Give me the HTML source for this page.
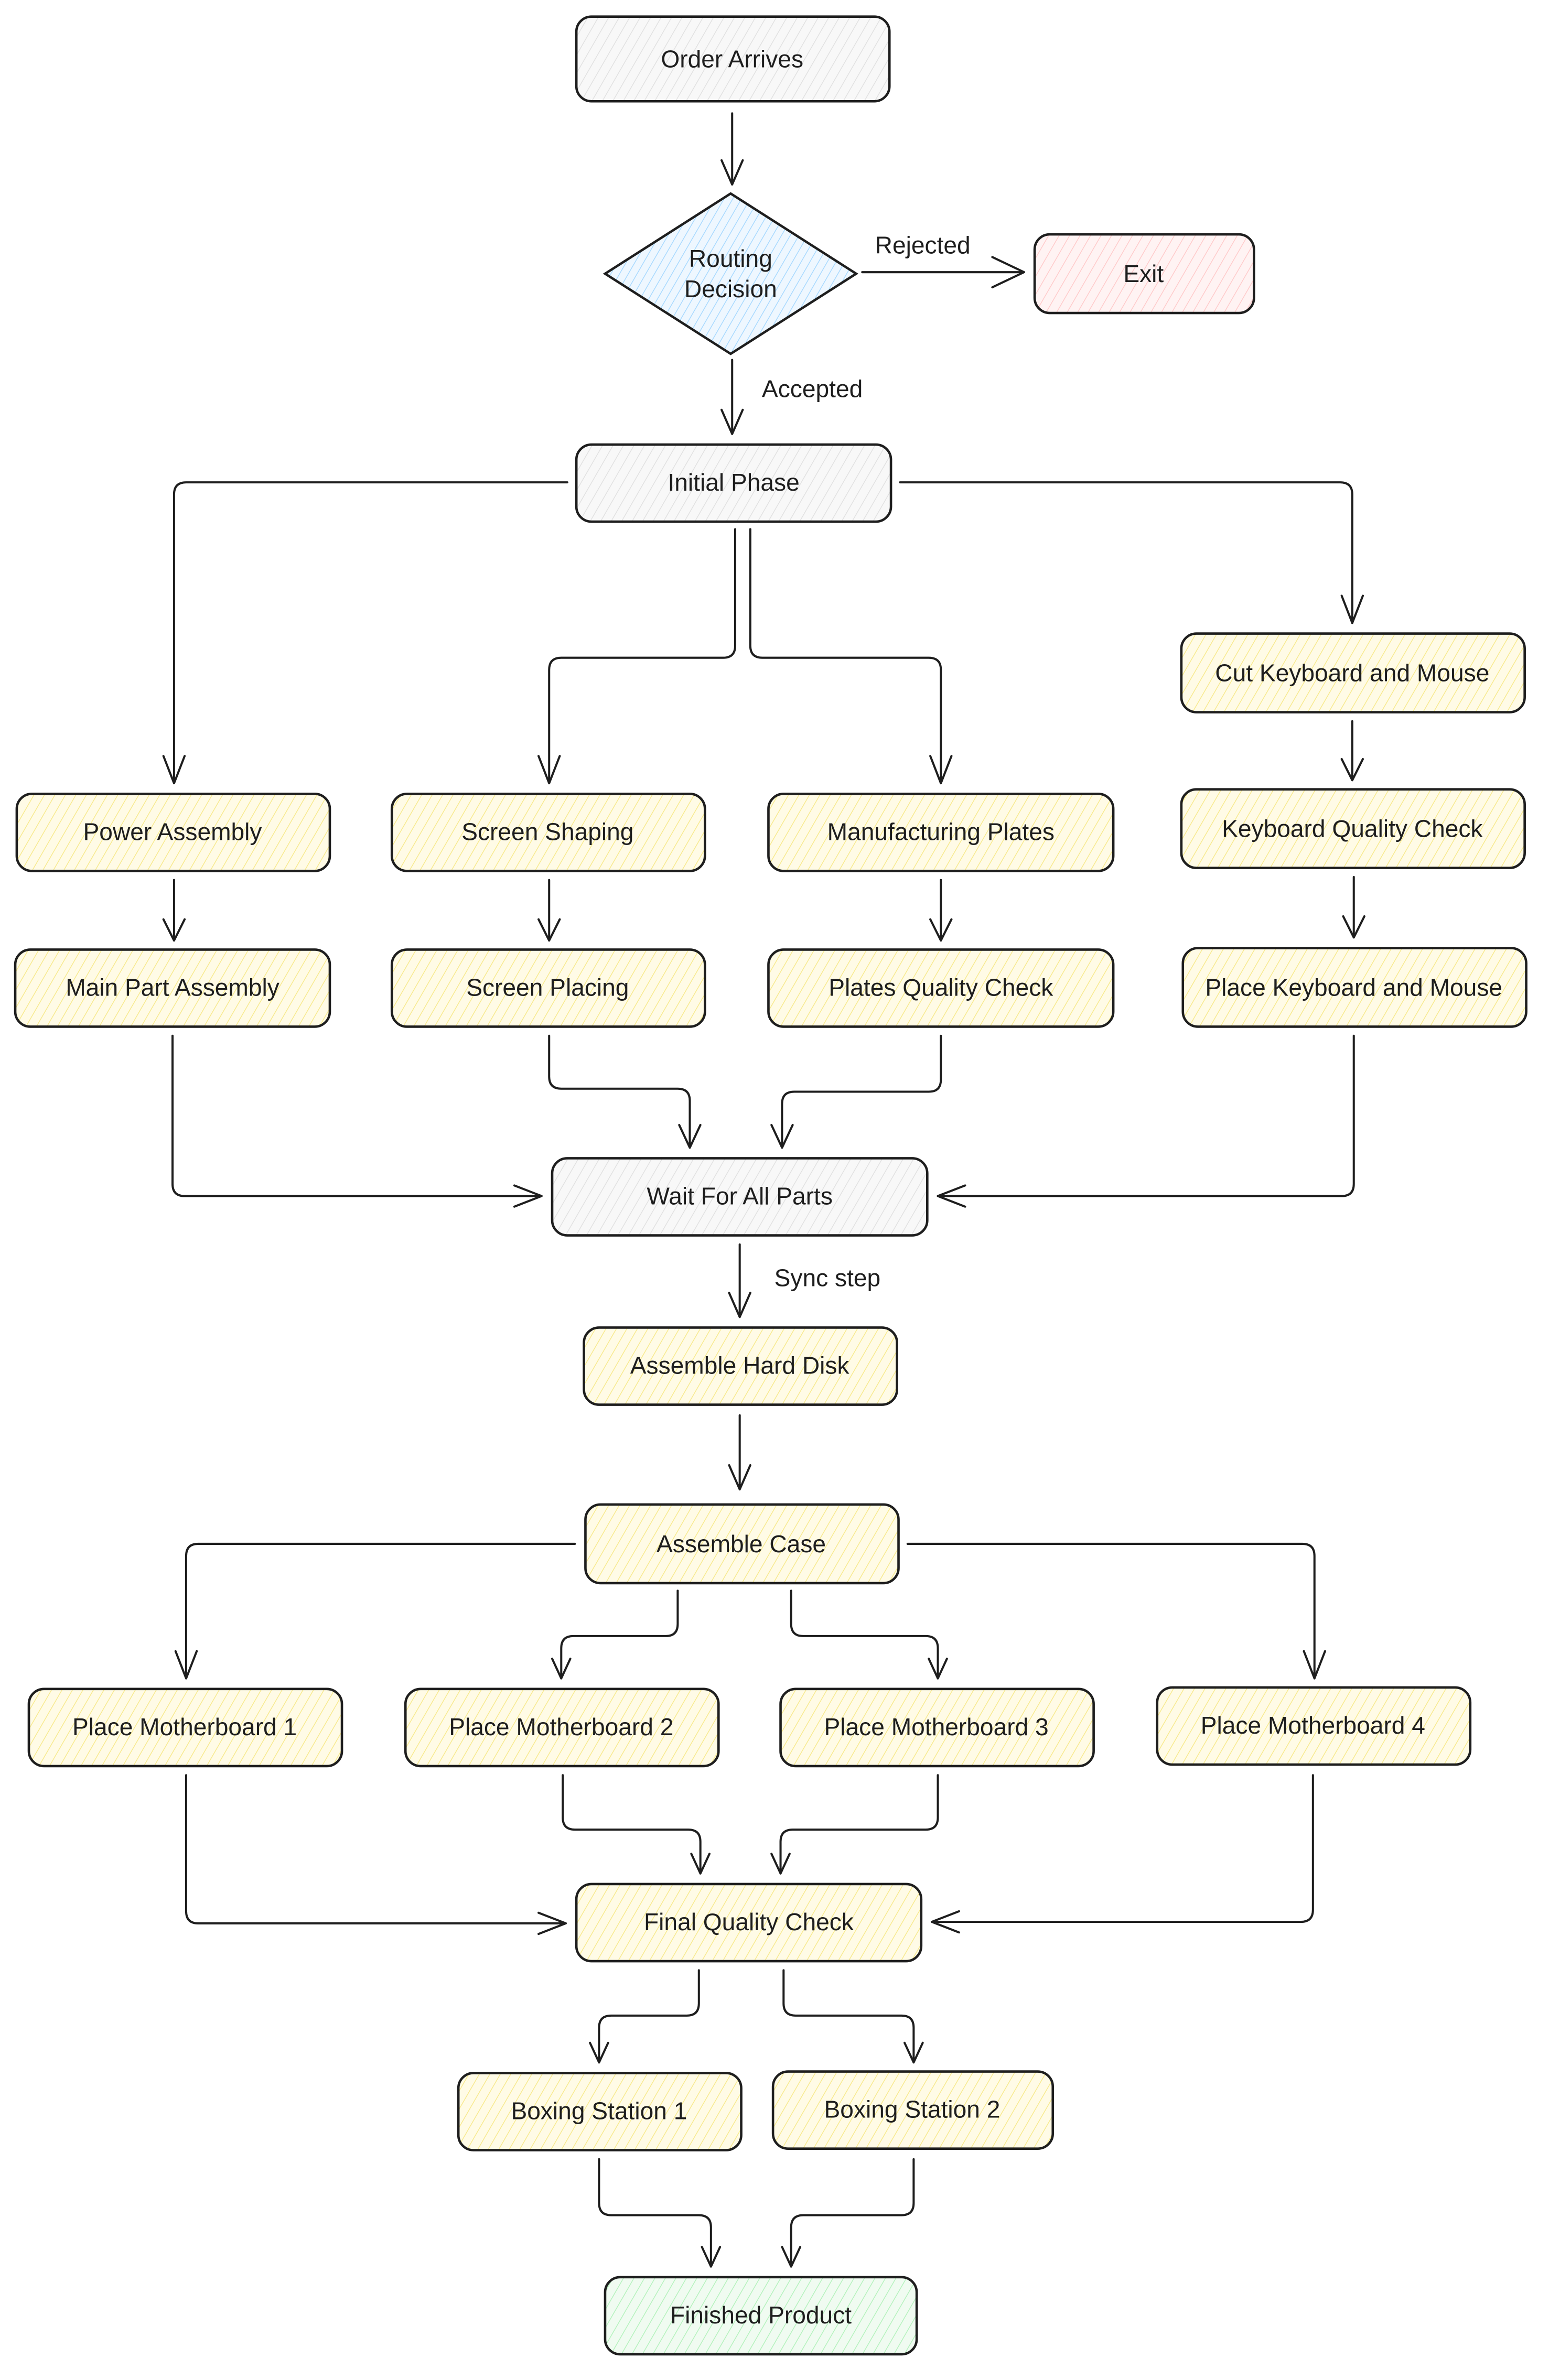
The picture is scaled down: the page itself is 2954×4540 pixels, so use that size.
<!DOCTYPE html>
<html><head><meta charset="utf-8">
<style>
html,body{margin:0;padding:0;background:#fff;}
svg{display:block;}
text{font-family:"Liberation Sans",sans-serif;font-size:16px;fill:#1e1e1e;text-anchor:middle;dominant-baseline:central;}
.e{fill:none;stroke:#1e1e1e;stroke-width:1.4;stroke-linejoin:round;stroke-linecap:round;}
.n{stroke:#1e1e1e;stroke-width:1.6;}
</style></head><body>
<svg width="2954" height="4540" viewBox="0 0 1024 1574" xmlns="http://www.w3.org/2000/svg">
<defs>
<pattern id="g" width="6" height="6" patternUnits="userSpaceOnUse" patternTransform="rotate(30)"><rect width="6" height="6" fill="#f8f8f8"/><line x1="0" y1="0" x2="0" y2="6" stroke="#e0e0e0" stroke-width="1"/></pattern>
<pattern id="y" width="6" height="6" patternUnits="userSpaceOnUse" patternTransform="rotate(30)"><rect width="6" height="6" fill="#fffbe6"/><line x1="0" y1="0" x2="0" y2="6" stroke="#f7e98a" stroke-width="1"/></pattern>
<pattern id="b" width="5" height="5" patternUnits="userSpaceOnUse" patternTransform="rotate(30)"><rect width="5" height="5" fill="#eef7ff"/><line x1="0" y1="0" x2="0" y2="5" stroke="#a5d8ff" stroke-width="1"/></pattern>
<pattern id="r" width="6" height="6" patternUnits="userSpaceOnUse" patternTransform="rotate(30)"><rect width="6" height="6" fill="#fff3f3"/><line x1="0" y1="0" x2="0" y2="6" stroke="#ffc9c9" stroke-width="1"/></pattern>
<pattern id="gr" width="6" height="6" patternUnits="userSpaceOnUse" patternTransform="rotate(30)"><rect width="6" height="6" fill="#f0fbf1"/><line x1="0" y1="0" x2="0" y2="6" stroke="#b2f2bb" stroke-width="1"/></pattern>
</defs>

<!-- nodes -->
<rect class="n" x="381" y="11" width="207" height="56" rx="10" fill="url(#g)"/><text x="484" y="39">Order Arrives</text>
<polygon class="n" points="483,128 566,181 483,234 400,181" fill="url(#b)"/><text x="483" y="171">Routing</text><text x="483" y="191">Decision</text>
<rect class="n" x="684" y="155" width="145" height="52" rx="10" fill="url(#r)"/><text x="756" y="181">Exit</text>
<rect class="n" x="381" y="294" width="208" height="51" rx="10" fill="url(#g)"/><text x="485" y="319">Initial Phase</text>

<rect class="n" x="11" y="525" width="207" height="51" rx="10" fill="url(#y)"/><text x="114" y="550">Power Assembly</text>
<rect class="n" x="259" y="525" width="207" height="51" rx="10" fill="url(#y)"/><text x="362" y="550">Screen Shaping</text>
<rect class="n" x="508" y="525" width="228" height="51" rx="10" fill="url(#y)"/><text x="622" y="550">Manufacturing Plates</text>
<rect class="n" x="781" y="419" width="227" height="52" rx="10" fill="url(#y)"/><text x="894" y="445">Cut Keyboard and Mouse</text>
<rect class="n" x="781" y="522" width="227" height="52" rx="10" fill="url(#y)"/><text x="894" y="548">Keyboard Quality Check</text>

<rect class="n" x="10" y="628" width="208" height="51" rx="10" fill="url(#y)"/><text x="114" y="653">Main Part Assembly</text>
<rect class="n" x="259" y="628" width="207" height="51" rx="10" fill="url(#y)"/><text x="362" y="653">Screen Placing</text>
<rect class="n" x="508" y="628" width="228" height="51" rx="10" fill="url(#y)"/><text x="622" y="653">Plates Quality Check</text>
<rect class="n" x="782" y="627" width="227" height="52" rx="10" fill="url(#y)"/><text x="895" y="653">Place Keyboard and Mouse</text>

<rect class="n" x="365" y="766" width="248" height="51" rx="10" fill="url(#g)"/><text x="489" y="791">Wait For All Parts</text>
<rect class="n" x="386" y="878" width="207" height="51" rx="10" fill="url(#y)"/><text x="489" y="903">Assemble Hard Disk</text>
<rect class="n" x="387" y="995" width="207" height="52" rx="10" fill="url(#y)"/><text x="490" y="1021">Assemble Case</text>

<rect class="n" x="19" y="1117" width="207" height="51" rx="10" fill="url(#y)"/><text x="122" y="1142">Place Motherboard 1</text>
<rect class="n" x="268" y="1117" width="207" height="51" rx="10" fill="url(#y)"/><text x="371" y="1142">Place Motherboard 2</text>
<rect class="n" x="516" y="1117" width="207" height="51" rx="10" fill="url(#y)"/><text x="619" y="1142">Place Motherboard 3</text>
<rect class="n" x="765" y="1116" width="207" height="51" rx="10" fill="url(#y)"/><text x="868" y="1141">Place Motherboard 4</text>

<rect class="n" x="381" y="1246" width="228" height="51" rx="10" fill="url(#y)"/><text x="495" y="1271">Final Quality Check</text>
<rect class="n" x="303" y="1371" width="187" height="51" rx="10" fill="url(#y)"/><text x="396" y="1396">Boxing Station 1</text>
<rect class="n" x="511" y="1370" width="185" height="51" rx="10" fill="url(#y)"/><text x="603" y="1395">Boxing Station 2</text>
<rect class="n" x="400" y="1506" width="206" height="51" rx="10" fill="url(#gr)"/><text x="503" y="1531">Finished Product</text>

<!-- edges -->
<g class="e">
<path d="M484 75 V122 M477 106 L484 122 L491 106"/>
<path d="M570 180 H677 M656 170 L677 180 L656 190"/>
<path d="M484 238 V287 M477 271 L484 287 L491 271"/>
<path d="M375 319 H123 Q115 319 115 327 V518 M108 500 L115 518 L122 500"/>
<path d="M486 350 V427 Q486 435 478 435 H371 Q363 435 363 443 V518 M356 500 L363 518 L370 500"/>
<path d="M496 350 V427 Q496 435 504 435 H614 Q622 435 622 443 V518 M615 500 L622 518 L629 500"/>
<path d="M595 319 H886 Q894 319 894 327 V412 M887 394 L894 412 L901 394"/>
<path d="M894 477 V516 M887 502 L894 516 L901 502"/>
<path d="M115 582 V622 M108 608 L115 622 L122 608"/>
<path d="M363 582 V622 M356 608 L363 622 L370 608"/>
<path d="M622 582 V622 M615 608 L622 622 L629 608"/>
<path d="M895 580 V620 M888 606 L895 620 L902 606"/>
<path d="M114 685 V783 Q114 791 122 791 H358 M340 784 L358 791 L340 798"/>
<path d="M363 685 V712 Q363 720 371 720 H448 Q456 720 456 728 V759 M449 744 L456 759 L463 744"/>
<path d="M622 685 V714 Q622 722 614 722 H525 Q517 722 517 730 V759 M510 744 L517 759 L524 744"/>
<path d="M895 685 V783 Q895 791 887 791 H620 M638 784 L620 791 L638 798"/>
<path d="M489 823 V871 M482 855 L489 871 L496 855"/>
<path d="M489 936 V985 M482 969 L489 985 L496 969"/>
<path d="M380 1021 H131 Q123 1021 123 1029 V1110 M116 1092 L123 1110 L130 1092"/>
<path d="M448 1052 V1074 Q448 1082 440 1082 H379 Q371 1082 371 1090 V1110 M365 1097 L371 1110 L377 1097"/>
<path d="M523 1052 V1074 Q523 1082 531 1082 H612 Q620 1082 620 1090 V1110 M614 1097 L620 1110 L626 1097"/>
<path d="M600 1021 H861 Q869 1021 869 1029 V1110 M862 1092 L869 1110 L876 1092"/>
<path d="M123 1174 V1264 Q123 1272 131 1272 H374 M356 1265 L374 1272 L356 1279"/>
<path d="M372 1174 V1202 Q372 1210 380 1210 H455 Q463 1210 463 1218 V1239 M457 1226 L463 1239 L469 1226"/>
<path d="M620 1174 V1202 Q620 1210 612 1210 H524 Q516 1210 516 1218 V1239 M510 1226 L516 1239 L522 1226"/>
<path d="M868 1174 V1263 Q868 1271 860 1271 H616 M634 1264 L616 1271 L634 1278"/>
<path d="M462 1303 V1325 Q462 1333 454 1333 H404 Q396 1333 396 1341 V1364 M390 1351 L396 1364 L402 1351"/>
<path d="M518 1303 V1325 Q518 1333 526 1333 H596 Q604 1333 604 1341 V1364 M598 1351 L604 1364 L610 1351"/>
<path d="M396 1428 V1457 Q396 1465 404 1465 H462 Q470 1465 470 1473 V1499 M464 1486 L470 1499 L476 1486"/>
<path d="M604 1428 V1457 Q604 1465 596 1465 H531 Q523 1465 523 1473 V1499 M517 1486 L523 1499 L529 1486"/>
</g>

<!-- edge labels -->
<text x="610" y="162">Rejected</text>
<text x="537" y="257">Accepted</text>
<text x="547" y="845">Sync step</text>
</svg>
</body></html>
